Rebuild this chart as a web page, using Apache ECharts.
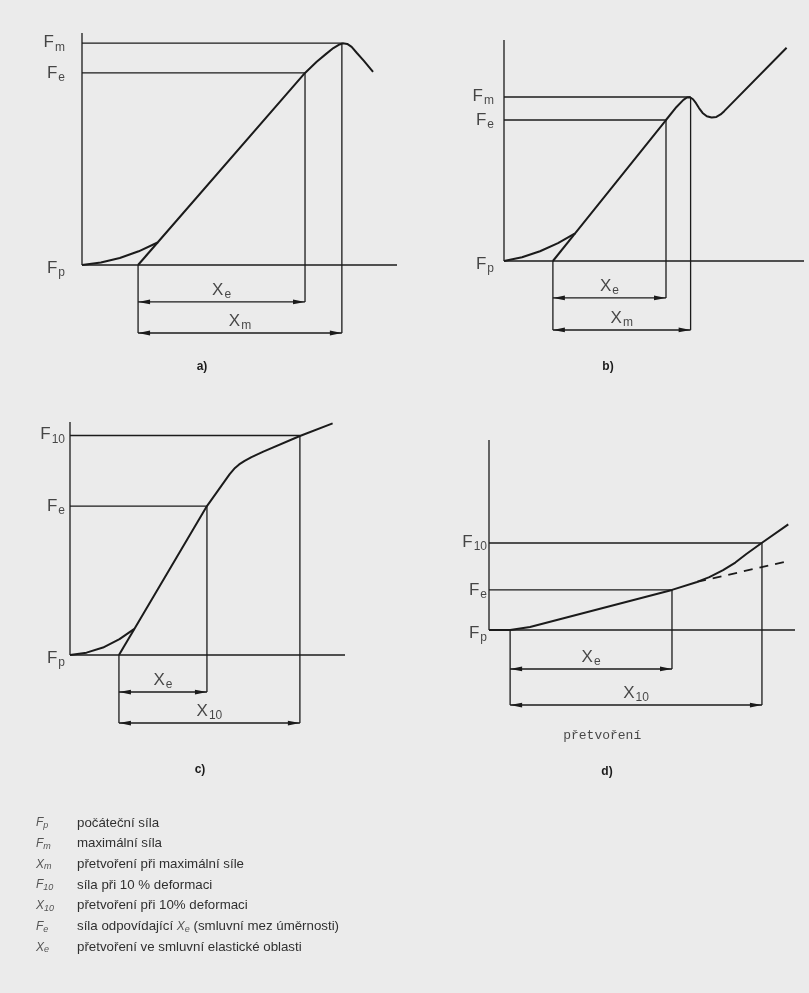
<!DOCTYPE html>
<html>
<head>
<meta charset="utf-8">
<script src="https://cdn.jsdelivr.net/npm/echarts@6/dist/echarts.min.js"></script>
<style>
  html, body { margin: 0; padding: 0; background: #ebebeb; }
  #chart { width: 809px; height: 993px; }
</style>
</head>
<body>
<div id="chart"></div>
<script>
// Force–deformation diagrams: force measured from the initial force F_p (0),
// deformation in arbitrary units along the horizontal axis.

// a) curve with a maximum force
const curveA = [[0, 0], [6, 1.1], [12, 3.0], [18, 5.9], [24, 9.7], [70.8, 82.8], [74.5, 87.6],
  [77.5, 91.0], [79.8, 93.5], [81.5, 94.9], [82.8, 95.6], [84.2, 95.3], [85.6, 94.0],
  [87.2, 91.5], [89.5, 88.0], [92.4, 83.2]];
// b) curve with a local maximum followed by a dip
const curveB = [[0, 0], [6, 1.7], [12, 4.4], [18, 8.1], [23.7, 12.5], [54, 63.8], [57.5, 69.7],
  [59.8, 72.9], [61.0, 74.0], [62.0, 74.1], [63.0, 73.2], [64.0, 71.4], [65.0, 69.2],
  [66.2, 67.0], [67.6, 65.5], [69.2, 64.9], [70.8, 65.2], [72.2, 66.3], [73.4, 67.8],
  [94.2, 96.5]];
// c) curve without maximum, evaluated at 10 % deformation
const curveC = [[0, 0], [6, 1.0], [12, 3.2], [18, 6.8], [23.4, 11.2], [49.8, 63.9], [58, 77.5],
  [60, 80.3], [61.5, 81.8], [63.5, 83.3], [66, 84.9], [70.3, 87.3], [83.6, 94.0], [95.5, 99.4]];
// d) flat curve stiffening at larger deformation
const curveD = [[0, 0], [6.9, 0], [13.4, 1.6], [59.8, 21.1], [68, 25.3], [72, 27.8], [76.5, 31.5],
  [80.5, 35.5], [84.1, 40.0], [89.1, 45.8], [97.8, 55.6]];

// Extension of the linear part down to the deformation axis
const tangentA = [[17.8, 0], [24, 9.7]];
const tangentB = [[16.3, 0], [23.7, 12.5]];
const tangentC = [[17.8, 0], [23.4, 11.2]];
// Linear continuation in d)
const dashedD = [[68, 25.3], [97.8, 36.3]];

// Characteristic points [deformation, force]
const elasticPts = [[70.8, 82.8], [54, 63.8], [49.8, 63.9], [59.8, 21.1]];   // F_e, X_e
const upperPts = [[82.5, 95.6], [62.2, 74.2], [83.6, 94.2], [89.2, 45.8]];   // F_m / F_10
const startDef = [17.8, 16.3, 17.8, 6.9];                                    // start of X_e

// Symbols [letter, subscript]
const upperForce = [['F', 'm'], ['F', 'm'], ['F', '10'], ['F', '10']];
const upperDef = [['X', 'm'], ['X', 'm'], ['X', '10'], ['X', '10']];
const panelTags = ['a)', 'b)', 'c)', 'd)'];
const axisCaption = 'přetvoření';

// Key of symbols
const legendSymbols = [['F', 'p'], ['F', 'm'], ['X', 'm'], ['F', '10'], ['X', '10'], ['F', 'e'], ['X', 'e']];
const legendTexts = [
  'počáteční síla',
  'maximální síla',
  'přetvoření při maximální síle',
  'síla při 10 % deformaci',
  'přetvoření při 10% deformaci',
  'síla odpovídající X_e (smluvní mez úměrnosti)',
  'přetvoření ve smluvní elastické oblasti'
];

// ---- layout ----
const INK = '#1b1b1b';
const FONT = 'Liberation Sans';
const X_MIN = -14, X_MAX = 100, Y_MAX = 100;
const curves = [curveA, curveB, curveC, curveD];
const tangents = [tangentA, tangentB, tangentC, null];
const panels = [
  { ox: 82,  oy: 265, sx: 3.15, sy: 2.32, yMin: -40, arrowE: -15.9, arrowU: -29.3, gap: 17, tag: [202, 367] },
  { ox: 504, oy: 261, sx: 3.0,  sy: 2.21, yMin: -40, arrowE: -16.7, arrowU: -31.2, gap: 10, tag: [608, 367] },
  { ox: 70,  oy: 655, sx: 2.75, sy: 2.33, yMin: -40, arrowE: -15.9, arrowU: -29.2, gap: 5,  tag: [200, 770] },
  { ox: 489, oy: 630, sx: 3.06, sy: 1.9,  yMin: -60, arrowE: -20.5, arrowU: -39.5, gap: 2,  tag: [607, 772] }
];

const symRich = {
  f: { fontSize: 17, fontFamily: FONT, color: INK, lineHeight: 20 },
  s: { fontSize: 12, fontFamily: FONT, color: INK, padding: [10, 0, 0, 1] }
};
const sym = (pair) => '{f|' + pair[0] + '}{s|' + pair[1] + '}';

function renderSegment(params, api) {
  const a = api.coord([api.value(0), api.value(1)]);
  const b = api.coord([api.value(2), api.value(3)]);
  return { type: 'line', shape: { x1: a[0], y1: a[1], x2: b[0], y2: b[1] },
    style: { stroke: INK, lineWidth: 1.3 } };
}

function renderDimension(params, api) {
  const a = api.coord([api.value(0), api.value(2)]);
  const b = api.coord([api.value(1), api.value(2)]);
  const L = 12, W = 2.4;
  return { type: 'group', children: [
    { type: 'line', shape: { x1: a[0], y1: a[1], x2: b[0], y2: b[1] }, style: { stroke: INK, lineWidth: 1.4 } },
    { type: 'polygon', shape: { points: [[a[0], a[1]], [a[0] + L, a[1] - W], [a[0] + L, a[1] + W]] }, style: { fill: INK } },
    { type: 'polygon', shape: { points: [[b[0], b[1]], [b[0] - L, b[1] - W], [b[0] - L, b[1] + W]] }, style: { fill: INK } }
  ] };
}

const grid = [], xAxis = [], yAxis = [], series = [], graphic = [];

panels.forEach((p, i) => {
  grid.push({ left: p.ox + X_MIN * p.sx, top: p.oy - Y_MAX * p.sy,
    width: (X_MAX - X_MIN) * p.sx, height: (Y_MAX - p.yMin) * p.sy });
  xAxis.push({ gridIndex: i, type: 'value', min: X_MIN, max: X_MAX, show: false });
  yAxis.push({ gridIndex: i, type: 'value', min: p.yMin, max: Y_MAX, show: false });

  const e = elasticPts[i], u = upperPts[i], x0 = startDef[i];
  const axes = { xAxisIndex: i, yAxisIndex: i, silent: true, animation: false };

  series.push(Object.assign({
    type: 'custom', renderItem: renderSegment, clip: false,
    data: [
      [0, 0, 0, Y_MAX], [0, 0, X_MAX, 0],
      [0, e[1], e[0], e[1]], [e[0], e[1], e[0], p.arrowE],
      [0, u[1], u[0], u[1]], [u[0], u[1], u[0], p.arrowU],
      [x0, 0, x0, p.arrowU]
    ]
  }, axes));

  series.push(Object.assign({
    type: 'custom', renderItem: renderDimension, clip: false,
    data: [[x0, e[0], p.arrowE], [x0, u[0], p.arrowU]]
  }, axes));

  series.push(Object.assign({
    type: 'line', data: curves[i], symbol: 'none', lineStyle: { color: INK, width: 2 }
  }, axes));
  if (tangents[i]) {
    series.push(Object.assign({
      type: 'line', data: tangents[i], symbol: 'none', lineStyle: { color: INK, width: 2 }
    }, axes));
  }
  if (i === 3) {
    series.push(Object.assign({
      type: 'line', data: dashedD, symbol: 'none',
      lineStyle: { color: INK, width: 1.8, type: [9, 7] }
    }, axes));
  }

  const left = (v, pair, dy) => ({ value: [0, v],
    label: { formatter: sym(pair), position: 'left', distance: p.gap, offset: [0, dy || 0] } });
  const above = (xa, xb, y, pair) => ({ value: [(xa + xb) / 2, y],
    label: { formatter: sym(pair), position: 'top', distance: 1 } });
  const labels = [
    left(u[1], upperForce[i], -1),
    left(e[1], ['F', 'e'], 0),
    left(0, ['F', 'p'], 3),
    above(x0, e[0], p.arrowE, ['X', 'e']),
    above(x0, u[0], p.arrowU, upperDef[i])
  ];
  series.push(Object.assign({
    type: 'scatter', symbolSize: 0, clip: false, data: labels,
    label: { show: true, rich: symRich }
  }, axes));

  if (i === 3) {
    series.push(Object.assign({
      type: 'scatter', symbolSize: 0, clip: false,
      data: [{ value: [37, -55.3] }],
      label: { show: true, position: 'inside', formatter: axisCaption,
        fontFamily: 'Liberation Mono', fontSize: 13, color: INK }
    }, axes));
  }

  graphic.push({ type: 'text', x: p.tag[0], y: p.tag[1], silent: true,
    style: { text: panelTags[i], font: 'bold 12px ' + FONT, fill: INK, align: 'center', verticalAlign: 'middle' } });
});

// Key below the diagrams
const keyRich = {
  i: { fontSize: 12, fontStyle: 'italic', fontFamily: FONT, fill: '#555', color: '#555' },
  is: { fontSize: 9, fontStyle: 'italic', fontFamily: FONT, fill: '#555', color: '#555', padding: [5, 0, 0, 0] },
  t: { fontSize: 13.3, fontFamily: FONT, fill: '#303030', color: '#303030' }
};
legendSymbols.forEach((pair, k) => {
  const y = 823 + k * 20.7;
  graphic.push({ type: 'text', x: 36, y: y, silent: true,
    style: { text: '{i|' + pair[0] + '}{is|' + pair[1] + '}', rich: keyRich, verticalAlign: 'middle' } });
  const parts = legendTexts[k].split('X_e');
  const txt = parts.map(s => '{t|' + s + '}').join('{i|X}{is|e}');
  graphic.push({ type: 'text', x: 77, y: y, silent: true,
    style: { text: txt, rich: keyRich, verticalAlign: 'middle' } });
});

const chart = echarts.init(document.getElementById('chart'), null, { renderer: 'canvas' });
chart.setOption({
  backgroundColor: '#ebebeb',
  animation: false,
  grid, xAxis, yAxis, series, graphic
});
</script>
</body>
</html>
